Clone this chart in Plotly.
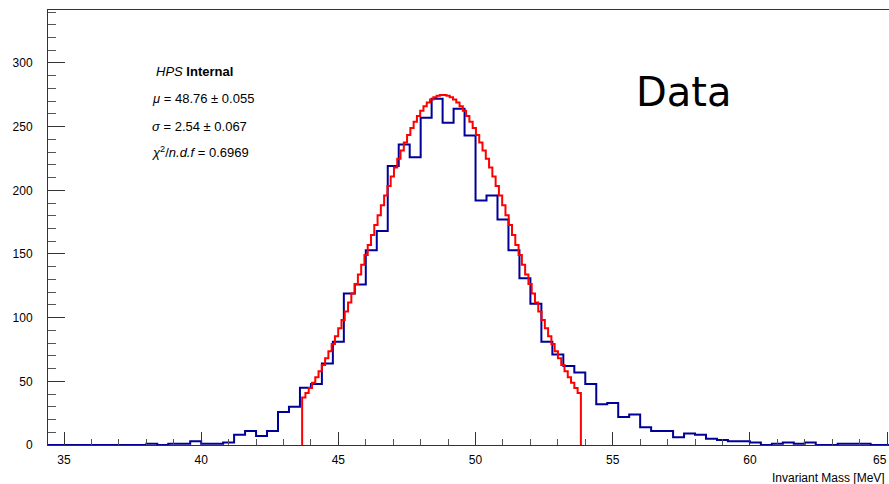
import numpy as np
import plotly.graph_objects as go

# ---- data ----
bin_start = 34.4
bin_width = 0.4
counts = [0, 0, 0, 0, 0, 0, 0, 0, 0, 1,
          0, 1, 1, 3, 1, 1, 2, 8, 11, 7,
          11, 26, 30, 45, 48, 64, 81, 119, 126, 153,
          168, 219, 236, 226, 257, 272, 253, 264, 243, 192,
          196, 177, 153, 131, 111, 81, 71, 62, 57, 48,
          32, 33, 22, 24, 14, 11, 11, 6, 9, 8,
          5, 4, 3, 3, 2, 0, 1, 2, 1, 2,
          0, 0, 1, 1, 1, 0, 0]

fit_mu = 48.76
fit_sigma = 2.54
fit_amp = 275.0
fit_step = 0.12

x_ticks = [35, 40, 45, 50, 55, 60, 65]
x_ticklabels = ["35", "40", "45", "50", "55", "60", "65"]
y_ticks = [0, 50, 100, 150, 200, 250, 300]

stat_lines = [
    "<i>HPS</i> <b>Internal</b>",
    "<i>μ</i> = 48.76 ± 0.055",
    "<i>σ</i> = 2.54 ± 0.067",
    "<i>χ</i><sup>2</sup>/<i>n.d.f</i> = 0.6969",
]

# ---- derived ----
edges = bin_start + bin_width * np.arange(len(counts) + 1)
hx = list(edges)
hy = list(counts) + [counts[-1]]

lo, hi = fit_mu - 2 * fit_sigma, fit_mu + 2 * fit_sigma
n = int(round((hi - lo) / fit_step))
fx = np.linspace(lo, hi, n + 1)
fy = fit_amp * np.exp(-0.5 * ((fx - fit_mu) / fit_sigma) ** 2)
fxs = [lo] + list(fx) + [hi]
fys = [0] + list(fy) + [0]

fig = go.Figure()
fig.add_trace(go.Scatter(x=hx, y=hy, mode="lines", line=dict(shape="hv", color="#000099", width=2),
                         hoverinfo="skip", showlegend=False))
fig.add_trace(go.Scatter(x=fxs, y=fys, mode="lines", line=dict(shape="hv", color="#ff0000", width=2),
                         hoverinfo="skip", showlegend=False))

W, H = 889, 484
L, R, T, B = 48, 0, 10, 39
pw, ph = W - L - R, H - T - B

def px(xp):
    return (xp - L) / pw

def py(yp):
    return (H - B - yp) / ph

font = "Liberation Sans, Arial, Helvetica, sans-serif"

# the last x tick label is nudged left (as in the original) so it stays inside the canvas
shown_ticktext = x_ticklabels[:-1] + [""]

ann = []
ypos = [71, 98.5, 126, 152]
xpos = [154, 150, 150, 150]
for t, xx, yy in zip(stat_lines, xpos, ypos):
    ann.append(dict(text=t, x=px(xx), y=py(yy), xref="paper", yref="paper", xanchor="left", yanchor="middle",
                    showarrow=False, font=dict(family=font, size=13, color="black")))
ann.append(dict(text="Data", x=px(634), y=py(92), xref="paper", yref="paper", xanchor="left", yanchor="middle",
                showarrow=False, font=dict(family="DejaVu Sans, sans-serif", size=40, color="black")))
ann.append(dict(text="Invariant Mass [MeV]", x=px(887), y=py(478), xref="paper", yref="paper", xanchor="right",
                yanchor="middle", showarrow=False, font=dict(family=font, size=12, color="black")))
ann.append(dict(text=x_ticklabels[-1], x=px(889), y=py(460), xref="paper", yref="paper", xanchor="right",
                yanchor="middle", showarrow=False, font=dict(family=font, size=12, color="black")))

fig.update_layout(
    width=W, height=H,
    margin=dict(l=L, r=R, t=T, b=B, pad=0, autoexpand=False),
    paper_bgcolor="white", plot_bgcolor="white",
    annotations=ann,
    xaxis=dict(range=[34.417, 65.07], tickvals=x_ticks, ticktext=shown_ticktext,
               ticks="inside", ticklen=13, tickcolor="#333", tickwidth=1,
               minor=dict(ticks="inside", ticklen=6, dtick=1, tick0=35, tickcolor="#555"),
               showline=True, linecolor="#333", linewidth=1, mirror=True, showgrid=False, zeroline=False,
               tickfont=dict(family=font, size=12, color="black"), ticklabelstandoff=4,
               automargin=False),
    yaxis=dict(range=[0, 341.6], tickvals=y_ticks, ticktext=[str(v) for v in y_ticks],
               ticks="inside", ticklen=17, tickcolor="#333", tickwidth=1,
               minor=dict(ticks="inside", ticklen=8, dtick=10, tick0=0, tickcolor="#555"),
               showline=True, linecolor="#333", linewidth=1, mirror=True, showgrid=False, zeroline=False,
               tickfont=dict(family=font, size=12, color="black"), ticklabelstandoff=12,
               automargin=False),
)

fig.write_html("out.html")
